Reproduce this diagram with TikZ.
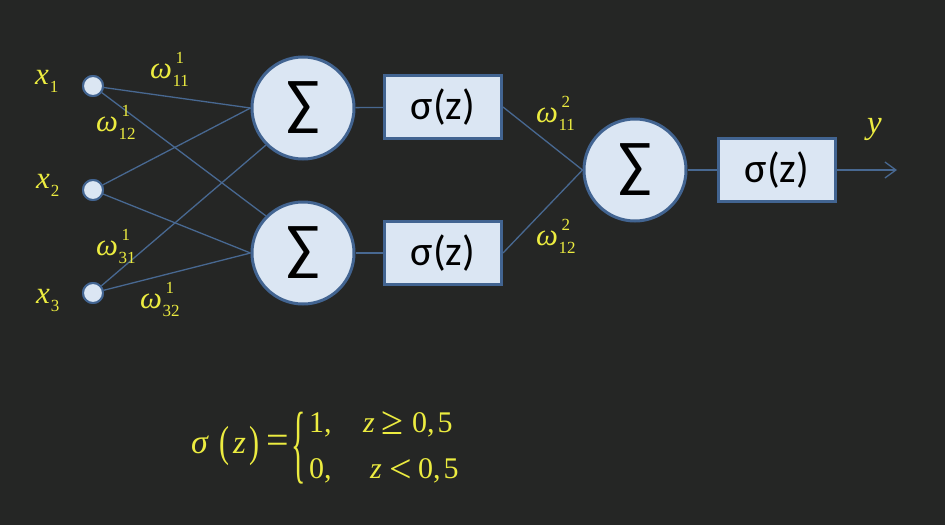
\documentclass[tikz,border=0pt]{standalone}
\usepackage{fontspec}
\setmainfont{Liberation Serif}
\newfontfamily\calib{Carlito}
\usetikzlibrary{arrows.meta}
\definecolor{bgc}{RGB}{37,38,37}
\definecolor{yel}{RGB}{236,236,64}
\definecolor{lnc}{RGB}{72,104,145}
\definecolor{bord}{RGB}{66,100,145}
\definecolor{fillc}{RGB}{219,230,243}
\newcommand\wlab[2]{\textit{ω}\kern0.5pt\rlap{\kern3pt\raisebox{15pt}{\fontsize{17}{17}\selectfont #1}}\raisebox{-8pt}{\fontsize{17}{17}\selectfont #2}}
\newcommand\xlab[1]{\textit{x}\kern1pt\raisebox{-8pt}{\fontsize{17}{17}\selectfont #1}}
\tikzset{
  inp/.style={circle, draw=bord, fill=fillc, line width=2pt, minimum size=20pt, inner sep=0pt},
  sumc/.style={circle, draw=bord, fill=fillc, line width=3pt, minimum size=102pt, inner sep=0pt, font=\calib\fontsize{62}{62}\selectfont, text=black},
  sigbox/.style={rectangle, draw=bord, fill=fillc, line width=3pt, minimum width=117pt, minimum height=63pt, inner sep=0pt, font=\calib\fontsize{42}{42}\selectfont, text=black},
  conn/.style={draw=lnc, line width=1.3pt},
  lab/.style={text=yel, anchor=base west, inner sep=0pt, font=\fontsize{31}{31}\selectfont},
  flab/.style={text=yel, anchor=base west, inner sep=0pt, font=\fontsize{30}{30}\selectfont},
  frel/.style={text=yel, anchor=base west, inner sep=0pt, font=\fontsize{40}{40}\selectfont},
  fpar/.style={text=yel, inner sep=0pt, font=\fontsize{30}{30}\selectfont}
}
\begin{document}
\begin{tikzpicture}[x=1pt,y=-1pt]
\path[fill=bgc] (0,0) rectangle (945,525);
% inputs
\node[inp] (i1) at (93,86) {};
\node[inp] (i2) at (93,190) {};
\node[inp] (i3) at (93,293) {};
% sums and activations
\node[sumc] (s1) at (303,108) {∑};
\node[sumc] (s2) at (303,253) {∑};
\node[sigbox] (b1) at (443,107) {σ(z)};
\node[sigbox] (b2) at (443,253) {σ(z)};
\node[sumc] (s3) at (635,170) {∑};
\node[sigbox] (b3) at (777,170) {σ(z)};
\coordinate (out) at (897,170);
% connectors
\draw[conn] (i1) -- (s1.west);
\draw[conn] (i2) -- (s1.west);
\draw[conn] (i3) -- (s1.225);
\draw[conn] (i1) -- (s2.135);
\draw[conn] (i2) -- (s2.west);
\draw[conn] (i3) -- (s2.west);
\draw[conn] (s1) -- (b1);
\draw[conn] (s2) -- (b2);
\draw[conn] (b1.east) -- (s3.west);
\draw[conn] (b2.east) -- (s3.west);
\draw[conn] (s3) -- (b3);
\draw[conn, -{Straight Barb[length=11pt,width=16pt,line width=1.3pt]}] (b3) -- (out);
\node[inp] at (i1) {};
\node[inp] at (i2) {};
\node[inp] at (i3) {};
% labels
\node[lab] (lx1) at (35,84) {\xlab{1}};
\node[lab] (lx2) at (36,188) {\xlab{2}};
\node[lab] (lx3) at (36,303) {\xlab{3}};
\node[lab] (w11) at (150,78) {\wlab{1}{11}};
\node[lab] (w12) at (96,131) {\wlab{1}{12}};
\node[lab] (w31) at (96,255) {\wlab{1}{31}};
\node[lab] (w32) at (140,308) {\wlab{1}{32}};
\node[lab] (v11) at (536,122) {\wlab{2}{11}};
\node[lab] (v12) at (536,245) {\wlab{2}{12}};
\node[lab, font=\fontsize{33}{33}\selectfont] (ylab) at (867,133) {\textit{y}};
% formula
\node[flab, font=\fontsize{34}{34}\selectfont] (fs) at (191,453) {\textit{σ}};
\node[fpar] (fl) at (224,446) {\scalebox{1}[1.45]{(}};
\node[flab, font=\fontsize{33}{33}\selectfont] (fz) at (233,453) {\textit{z}};
\node[fpar] (fr) at (254,446) {\scalebox{1}[1.45]{)}};
\node[frel] (feq) at (266,453) {=};
\node[fpar] (br) at (299,448) {\scalebox{1}[2.9]{\{}};
\node[flab] (r1a) at (309,432) {1,};
\node[flab] (r1z) at (363,432) {\textit{z}};
\node[frel] (r1r) at (381,432) {\raisebox{-2pt}{≥}};
\node[flab] (r1n) at (412,432) {0,\kern3pt5};
\node[flab] (r2a) at (309,478) {0,};
\node[flab] (r2z) at (370,478) {\textit{z}};
\node[frel] (r2r) at (389,478) {\raisebox{-4pt}{<}};
\node[flab] (r2n) at (418,478) {0,\kern3pt5};
\end{tikzpicture}
\end{document}
